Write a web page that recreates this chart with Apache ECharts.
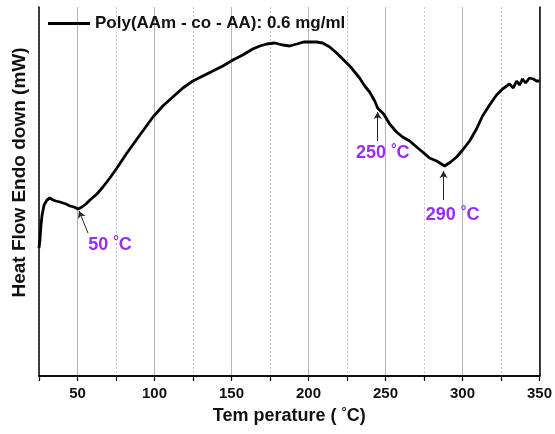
<!DOCTYPE html>
<html><head><meta charset="utf-8">
<script src="https://cdn.jsdelivr.net/npm/echarts@6/dist/echarts.min.js"></script>
<style>html,body{margin:0;padding:0;background:#fff}#c{width:555px;height:434px}</style>
</head><body><div id="c"></div>
<script>
// Temperature (°C)
var temps = [25,25.6,26.3,27,28.3,30.2,32.1,34.1,36,38.6,42.5,45.1,47.7,50.3,52.9,55.5,58.1,62.6,66.5,71,75.6,82.1,90.5,99,105.4,111.9,118.4,124.9,131.4,137.9,144.4,150.9,157.3,163.8,168.4,172.9,178.1,183.3,187.8,192.4,196.9,200.8,205.3,209.2,213.8,218.3,222.2,226.8,230,233.2,236.5,239.7,243,244.9,248.8,252.7,257.2,261.1,265.7,270.2,274.1,278.6,283.2,288.4,292.3,296.2,300.1,304.6,309.1,313,317.6,322.1,326,330.5,333,335.1,337,339,341,343.5,346,348.1,350];
// Heat flow (arbitrary units, endo down)
var heatFlow = [128,136,151,161,171,176,178,176,175,174,172,170,169,167,169,172,176,182,189,198,208,223,241,259,270,279,288,295,300,305,310,316,321,327,330,332,333,331,330,332,334,334,334,333,329,323,317,310,304,298,290,284,275,268,262,252,244,239,235,229,224,218,215,210,214,219,226,235,247,260,271,281,287,292,288,295,291,297,293,298,297,295,295];
var xTicksMajor = [50,100,150,200,250,300,350];
var annotTemps = ['50','250','290'];
var annotLabelPos = [[71.1,131],[248.2,223],[293.6,161]];
var annotArrowFrom = [[56.8,143],[244.9,235],[287.7,176]];
var annotArrowTo = [[51,165],[244.9,264],[287.7,205]];
var seriesName = 'Poly(AAm - co - AA): 0.6 mg/ml';

var purple = '#9a2cf5';
var FF = 'Liberation Sans, Arial';
var data = temps.map(function(t,i){return [t, heatFlow[i]];});
var chart = echarts.init(document.getElementById('c'));
chart.setOption({
  animation:false,
  grid:{left:39,right:15,top:7,bottom:58},
  legend:{left:43,top:10,itemWidth:42,itemHeight:12,itemGap:4,
    data:[{name:seriesName,icon:'path://M0,5L40,5L40,8L0,8Z'}],
    textStyle:{fontFamily:FF,fontWeight:'bold',fontSize:17,color:'#111',padding:[0,0,0,0]},
    itemStyle:{color:'#000'}},
  xAxis:[{
    type:'value',min:25,max:350,interval:25,position:'bottom',
    name:'Tem perature ( {sup|°}C)',nameLocation:'middle',nameGap:28,
    nameTextStyle:{fontFamily:FF,fontWeight:'bold',fontSize:18,color:'#111',
      rich:{sup:{fontFamily:FF,fontWeight:'bold',fontSize:13,verticalAlign:'top',padding:[0,0,8,0],color:'#111'}}},
    axisLine:{show:true,lineStyle:{color:'#000',width:1.5}},
    axisTick:{show:true,inside:false,length:5,lineStyle:{color:'#000',width:1.2}},
    axisLabel:{margin:10,fontFamily:FF,fontWeight:'bold',fontSize:15,color:'#111',
      formatter:function(v){return xTicksMajor.indexOf(v)>=0?String(v):'';}},
    splitLine:{show:true,lineStyle:{color:['rgba(0,0,0,0)','#b5b5b5'],width:1}}
  },{
    type:'value',min:25,max:350,interval:50,position:'top',
    axisLine:{show:true,lineStyle:{color:'#000',width:1.5}},
    axisTick:{show:false},axisLabel:{show:false},
    splitLine:{show:true,lineStyle:{color:'#c8c8c8',type:[2,2],width:1}}
  }],
  yAxis:[{
    type:'value',min:0,max:369,position:'left',
    name:'Heat Flow Endo down (mW)',nameLocation:'middle',nameGap:10,
    nameTextStyle:{fontFamily:FF,fontWeight:'bold',fontSize:19,color:'#111',padding:[0,0,0,38]},
    axisLine:{show:true,lineStyle:{color:'#000',width:1.5}},
    axisTick:{show:false},axisLabel:{show:false},splitLine:{show:false}
  },{
    type:'value',min:0,max:369,position:'right',
    axisLine:{show:true,lineStyle:{color:'#000',width:1.5}},
    axisTick:{show:false},axisLabel:{show:false},splitLine:{show:false}
  }],
  series:[{
    name:seriesName,type:'line',data:data,showSymbol:false,symbol:'none',
    lineStyle:{color:'#000',width:2.8},itemStyle:{color:'#000'},z:5,
    markLine:{silent:true,symbol:['none','arrow'],symbolSize:[6,7],
      lineStyle:{color:'#222',width:1,type:'solid'},label:{show:false},
      data:annotArrowFrom.map(function(f,i){return [{coord:f},{coord:annotArrowTo[i]}];})},
    markPoint:{silent:true,symbol:'circle',symbolSize:0,
      label:{show:true,color:purple,fontFamily:FF,fontWeight:'bold',fontSize:18,
        formatter:function(p){return p.name+' {sup|°}C';},
        rich:{sup:{color:purple,fontFamily:FF,fontWeight:'bold',fontSize:14,verticalAlign:'top',padding:[0,0,6,0]}}},
      data:annotLabelPos.map(function(c,i){return {name:annotTemps[i],coord:c};})}
  }]
});
</script></body></html>
